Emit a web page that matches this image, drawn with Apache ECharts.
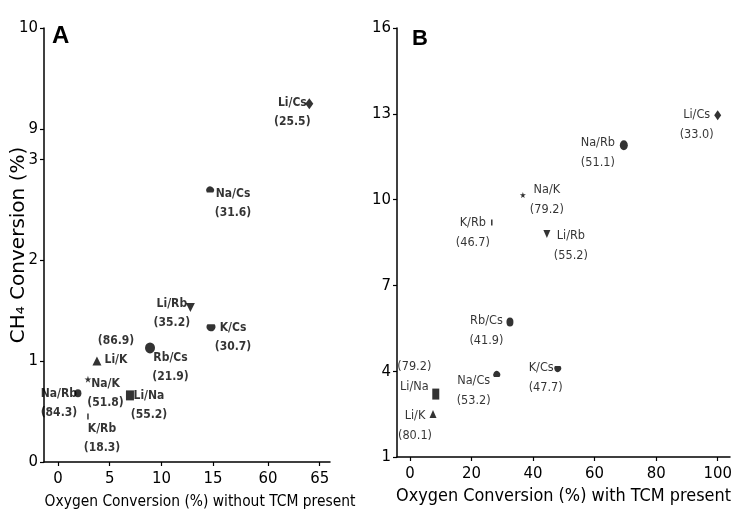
<!DOCTYPE html>
<html><head><meta charset="utf-8">
<script src="https://cdn.jsdelivr.net/npm/echarts@6/dist/echarts.min.js"></script>
<style>html,body{margin:0;padding:0;background:#fff}#c{width:737px;height:519px}</style>
</head><body><div id="c"></div>
<script>
// ---------- Panel A: without TCM ----------
const pairsA   = ['Li/Cs','Na/Cs','Li/Rb','K/Cs','Rb/Cs','Li/K','Na/K','Na/Rb','Li/Na','K/Rb'];
const o2ConvA  = [64.0, 14.7, 12.8, 14.8, 8.9, 3.77, 2.9, 1.93, 6.96, 2.9];
const ch4ConvA = [9.25, 2.70, 1.53, 1.33, 1.13, 1.00, 0.82, 0.68, 0.66, 0.45];
const selA     = ['25.5','31.6','35.2','30.7','21.9','86.9','51.8','84.3','55.2','18.3'];
const xTicksA  = [0, 5, 10, 15, 60, 65];
const yTicksA  = [0, 1, 2, 3, 9, 10];

// ---------- Panel B: with TCM ----------
const pairsB   = ['Li/Cs','Na/Rb','Na/K','Li/Rb','K/Rb','Rb/Cs','Na/Cs','K/Cs','Li/Na','Li/K'];
const o2ConvB  = [100, 69.5, 36.7, 44.5, 26.6, 32.5, 28.2, 48.0, 8.4, 7.5];
const ch4ConvB = [12.95, 11.9, 10.16, 8.8, 9.2, 5.72, 3.9, 4.08, 3.2, 2.5];
const selB     = ['33.0','51.1','79.2','55.2','46.7','41.9','53.2','47.7','79.2','80.1'];
const xTicksB  = [0, 20, 40, 60, 80, 100];
const yTicksB  = [1, 4, 7, 10, 13, 16];

const titleA = 'Oxygen Conversion (%) without TCM present';
const titleB = 'Oxygen Conversion (%) with TCM present';
const yTitleA = 'CH\u2084 Conversion (%)';

// ---------- font selection (condensed face if installed) ----------
const ctx = document.createElement('canvas').getContext('2d');
function hasFont(name) {
  const s = 'Oxygen Conversion 0123456789 Na/Rb';
  let diff = false;
  ['monospace', 'serif'].forEach(g => {
    ctx.font = '40px ' + g; const a = ctx.measureText(s).width;
    ctx.font = '40px "' + name + '", ' + g; const b = ctx.measureText(s).width;
    if (Math.abs(a - b) > 0.5) diff = true;
  });
  return diff;
}
const candidates = ['Liberation Sans Narrow', 'Arial Narrow', 'DejaVu Sans Condensed', 'Liberation Sans'];
const FACE = candidates.find(hasFont) || 'Liberation Sans';
const FAMILY = '"' + FACE + '", "Liberation Sans", Arial, sans-serif';
function fit(text, weight, target, lo, hi) {
  ctx.font = weight + ' 100px ' + FAMILY;
  const w = ctx.measureText(text).width;
  return Math.max(lo, Math.min(hi, Math.round(target / w * 100 * 10) / 10));
}
const fsTitleA = fit(titleA, 'normal', 310, 12, 20);
const fsTitleB = fit(titleB, 'normal', 335, 12, 22);
const fsLabA   = fit('(25.5)', 'bold', 28, 12, 14.5);
const fsLabB   = fit('(51.1)', 'normal', 34, 12, 16);
const fsTick   = fit('10', 'normal', 19, 15, 19);

// ---------- marker styles ----------
const STAR = 'path://M50,0 L61,35 L98,35 L68,57 L79,91 L50,70 L21,91 L32,57 L2,35 L39,35 Z';
const DOME = 'path://M2,16 L18,16 A10,10 0 1 0 2,16 Z';
const BOWL = 'path://M2,4 L18,4 A10,10 0 1 1 2,4 Z';
const symbolStyle = {
  'Li/Cs': {symbol:'diamond', a:[8,11], b:[7,10]},
  'Na/Cs': {symbol:DOME, a:[8,6], b:[7,6]},
  'Li/Rb': {symbol:'triangle', rotate:180, a:[9,9], b:[7,8]},
  'K/Cs':  {symbol:BOWL, a:[9,7], b:[7,6]},
  'Rb/Cs': {symbol:'circle', a:[10,11], b:[7,9]},
  'Li/K':  {symbol:'triangle', a:[9,9], b:[7,8]},
  'Na/K':  {symbol:STAR, a:[7,7], b:[6,6]},
  'Na/Rb': {symbol:'circle', a:[7,8], b:[8,10]},
  'Li/Na': {symbol:'rect', a:[8,10], b:[7,11]},
  'K/Rb':  {symbol:'rect', a:[1.5,6], b:[1.5,6]}
};
const labelA = {
  'Li/Cs': {align:'center', dx:-17, dy:9},
  'Na/Cs': {align:'center', dx:23, dy:14},
  'Li/Rb': {align:'center', dx:-18.5, dy:6},
  'K/Cs':  {align:'center', dx:22, dy:10},
  'Rb/Cs': {align:'center', dx:20.5, dy:19.5},
  'Li/K':  {align:'center', dx:19, dy:-10.5, valueFirst:true},
  'Na/K':  {align:'center', dx:17.5, dy:14},
  'Na/Rb': {align:'center', dx:-19, dy:10},
  'Li/Na': {align:'center', dx:19, dy:10},
  'K/Rb':  {align:'center', dx:14, dy:21.5}
};
const labelB = {
  'Li/Cs': {align:'center', dx:-21, dy:9},
  'Na/Rb': {align:'center', dx:-26, dy:7.5},
  'Na/K':  {align:'center', dx:24, dy:5},
  'Li/Rb': {align:'center', dx:24, dy:11.5},
  'K/Rb':  {align:'center', dx:-19, dy:10.5},
  'Rb/Cs': {align:'center', dx:-23.5, dy:9},
  'Na/Cs': {align:'center', dx:-23, dy:16.5},
  'K/Cs':  {align:'left', dx:-29, dy:8.5},
  'Li/Na': {align:'center', dx:-21.5, dy:-17, valueFirst:true},
  'Li/K':  {align:'center', dx:-18, dy:11.5}
};

function buildData(names, xs, ys, sels, labels, panel, font) {
  return names.map((n, i) => {
    const st = symbolStyle[n], lb = labels[n];
    return {
      name: n,
      value: [xs[i], ys[i]],
      symbol: st.symbol,
      symbolSize: st[panel],
      symbolRotate: st.rotate || 0,
      label: {
        show: true,
        position: 'inside',
        offset: [lb.dx, lb.dy],
        align: lb.align,
        verticalAlign: 'middle',
        formatter: lb.valueFirst ? '(' + sels[i] + ')\n' + n : n + '\n(' + sels[i] + ')',
        color: '#000',
        fontFamily: FAMILY,
        fontWeight: font.weight,
        fontSize: font.size,
        lineHeight: font.lh
      }
    };
  });
}

const LINE = {color: '#000', width: 1.5};
function axis(extra) {
  const base = {
    axisLine: {show: true, onZero: false, lineStyle: LINE},
    axisTick: {show: true, length: 4, lineStyle: {color: '#000', width: 1.2}},
    splitLine: {show: false},
    axisLabel: {color: '#000', fontFamily: FAMILY, fontSize: fsTick}
  };
  for (const k in extra) {
    if (base[k] && typeof extra[k] === 'object' && !Array.isArray(extra[k])) base[k] = Object.assign({}, base[k], extra[k]);
    else base[k] = extra[k];
  }
  return base;
}
// plain axis used only to draw an unbroken axis line under a broken axis
function lineOnly(grid, pos) {
  return {type: 'value', gridIndex: grid, position: pos, min: 0, max: 1,
    axisLine: {show: true, onZero: false, lineStyle: LINE},
    axisTick: {show: false}, axisLabel: {show: false}, splitLine: {show: false}};
}

const option = {
  backgroundColor: '#fff',
  animation: false,
  title: [
    {text: 'A', left: 52, top: 24, padding: 0, textStyle: {fontFamily: '"Liberation Sans", Arial, sans-serif', fontWeight: 'bold', fontSize: 24, color: '#000'}},
    {text: 'B', left: 412, top: 28, padding: 0, textStyle: {fontFamily: '"Liberation Sans", Arial, sans-serif', fontWeight: 'bold', fontSize: 22, color: '#000'}}
  ],
  grid: [
    {left: 44, top: 28, width: 286, height: 434, outerBoundsMode: 'none', containLabel: false},
    {left: 397, top: 28, width: 333, height: 429, outerBoundsMode: 'none', containLabel: false}
  ],
  xAxis: [
    axis({
      type: 'value', gridIndex: 0, min: -1.35, max: 66,
      breaks: [{start: 15, end: 60, gap: 5.3}],
      breakArea: {show: false},
      axisLine: {show: false},
      axisLabel: {customValues: xTicksA, margin: 8},
      axisTick: {customValues: xTicksA},
      name: titleA,
      nameLocation: 'middle', nameGap: 32,
      nameTextStyle: {fontFamily: FAMILY, fontSize: fsTitleA, color: '#000', padding: [0, 0, 0, 26]}
    }),
    axis({
      type: 'value', gridIndex: 1, min: -4.2, max: 104,
      axisLabel: {customValues: xTicksB, margin: 8},
      axisTick: {customValues: xTicksB},
      name: titleB,
      nameLocation: 'middle', nameGap: 30,
      nameTextStyle: {fontFamily: FAMILY, fontSize: fsTitleB, color: '#000'}
    }),
    lineOnly(0, 'bottom')
  ],
  yAxis: [
    axis({
      type: 'value', gridIndex: 0, min: 0, max: 10,
      breaks: [{start: 3, end: 9, gap: 0.3}],
      breakArea: {show: false},
      axisLine: {show: false},
      axisLabel: {customValues: yTicksA, margin: 6},
      axisTick: {customValues: yTicksA},
      name: yTitleA,
      nameLocation: 'middle', nameGap: 15, nameRotate: 90, nameMoveOverlap: false,
      nameTextStyle: {fontFamily: '"DejaVu Sans", sans-serif', fontSize: 20, color: '#000'}
    }),
    axis({
      type: 'value', gridIndex: 1, min: 1, max: 16,
      axisLabel: {customValues: yTicksB, margin: 6},
      axisTick: {customValues: yTicksB}
    }),
    lineOnly(0, 'left')
  ],
  series: [
    {
      type: 'scatter', xAxisIndex: 0, yAxisIndex: 0,
      itemStyle: {color: '#000'},
      data: buildData(pairsA, o2ConvA, ch4ConvA, selA, labelA, 'a',
        {weight: 'bold', size: fsLabA, lh: 19})
    },
    {
      type: 'scatter', xAxisIndex: 1, yAxisIndex: 1,
      itemStyle: {color: '#000'},
      data: buildData(pairsB, o2ConvB, ch4ConvB, selB, labelB, 'b',
        {weight: 'normal', size: fsLabB, lh: 20})
    }
  ]
};
const chart = echarts.init(document.getElementById('c'), null, {renderer: 'canvas'});
chart.setOption(option);
</script>
</body></html>
